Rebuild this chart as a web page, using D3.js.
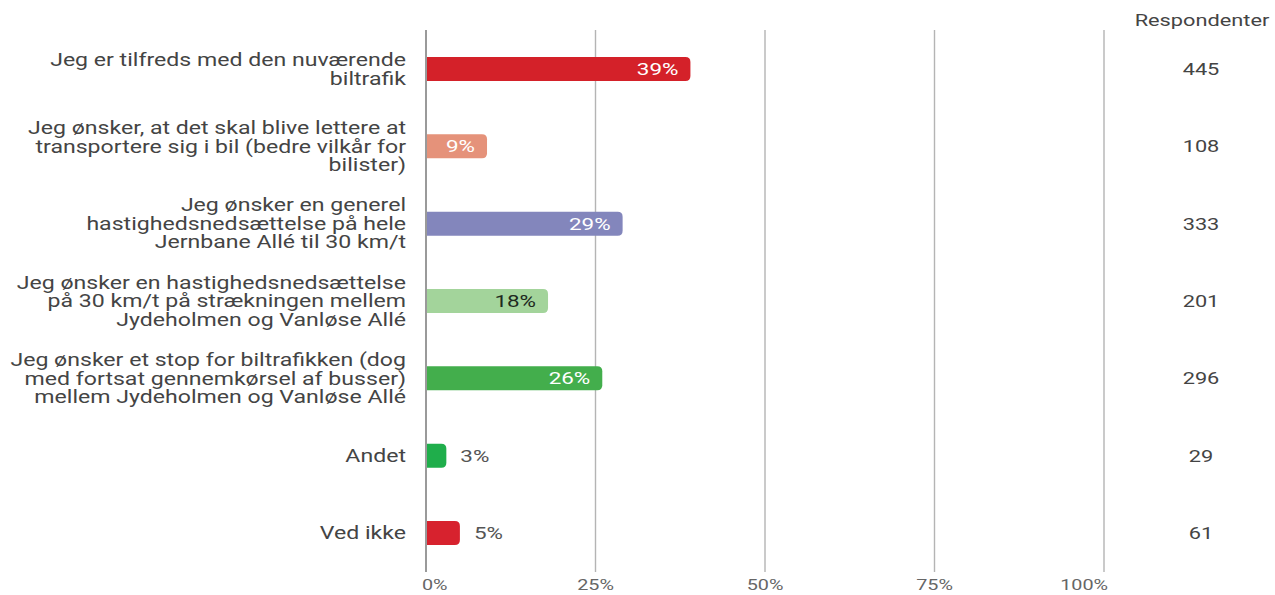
<!DOCTYPE html>
<html>
<head>
<meta charset="utf-8">
<script src="https://cdn.jsdelivr.net/npm/d3@7/dist/d3.min.js"></script>
<style>
  html, body { margin: 0; padding: 0; background: #fff; }
  svg { display: block; font-family: Roboto, "Noto Sans", sans-serif; }
</style>
</head>
<body>
<svg id="chart" width="1275" height="595"></svg>
<script>
// ---- data ----
const categories = [
  ["Jeg er tilfreds med den nuværende", "biltrafik"],
  ["Jeg ønsker, at det skal blive lettere at", "transportere sig i bil (bedre vilkår for", "bilister)"],
  ["Jeg ønsker en generel", "hastighedsnedsættelse på hele", "Jernbane Allé til 30 km/t"],
  ["Jeg ønsker en hastighedsnedsættelse", "på 30 km/t på strækningen mellem", "Jydeholmen og Vanløse Allé"],
  ["Jeg ønsker et stop for biltrafikken (dog", "med fortsat gennemkørsel af busser)", "mellem Jydeholmen og Vanløse Allé"],
  ["Andet"],
  ["Ved ikke"]
];
const percentages = [39, 9, 29, 18, 26, 3, 5];
const respondents = [445, 108, 333, 201, 296, 29, 61];
const barColors = ["#d42129", "#e5927a", "#8386bc", "#a3d49b", "#43ae4c", "#1fae4b", "#d7222e"];
const labelColors = ["#ffffff", "#ffffff", "#ffffff", "#1e2a1e", "#ffffff", "#555555", "#555555"];
const tickValues = [0, 25, 50, 75, 100];
const respondentsTitle = "Respondenter";

// ---- layout ----
const svg = d3.select("#chart");
const SX = 1.32; // horizontal text stretch as in reference
const x = d3.scaleLinear().domain([0, 100]).range([426, 1104]);
const idx = d3.range(categories.length);
const y = d3.scalePoint().domain(idx).range([69, 533]);
const barH = 24, r = 5;
const gridTop = 30, gridBottom = 572;

function stretchedText(g, tx, ty) {
  return g.append("text").attr("transform", `translate(${tx},${ty}) scale(${SX},1)`);
}

// grid
svg.append("g").selectAll("line").data(tickValues).join("line")
  .attr("x1", d => x(d)).attr("x2", d => x(d))
  .attr("y1", gridTop).attr("y2", gridBottom)
  .attr("stroke", d => d === 0 ? "#9a9a9a" : "#b4b4b4")
  .attr("stroke-width", d => d === 0 ? 2 : 1.4);

// tick labels
const tg = svg.append("g");
tickValues.forEach(v => {
  let anchor = "middle", tx = x(v);
  if (v === 0) { anchor = "start"; tx = x(v) - 4; }
  if (v === 100) { anchor = "end"; tx = x(v) + 4; }
  stretchedText(tg, tx, 590).attr("text-anchor", anchor)
    .attr("font-size", 15).attr("fill", "#666").text(v + "%");
});

// bars (square left, rounded right)
function barPath(x0, x1, yc) {
  const t = yc - barH / 2, b = yc + barH / 2;
  const rr = Math.min(r, (x1 - x0));
  return `M${x0},${t} H${x1 - rr} Q${x1},${t} ${x1},${t + rr} V${b - rr} Q${x1},${b} ${x1 - rr},${b} H${x0} Z`;
}
svg.append("g").selectAll("path").data(idx).join("path")
  .attr("d", i => barPath(x(0), x(percentages[i]), y(i)))
  .attr("fill", i => barColors[i]);

// redraw axis line on top
svg.append("line").attr("x1", x(0)).attr("x2", x(0)).attr("y1", gridTop).attr("y2", gridBottom)
  .attr("stroke", "#9a9a9a").attr("stroke-width", 2);

// value labels
const vg = svg.append("g");
idx.forEach(i => {
  const inside = percentages[i] >= 8;
  const tx = inside ? x(percentages[i]) - 12 : x(percentages[i]) + 14;
  stretchedText(vg, tx, y(i)).attr("dy", "0.36em")
    .attr("text-anchor", inside ? "end" : "start")
    .attr("font-size", 17).attr("fill", labelColors[i]).text(percentages[i] + "%");
});

// category labels
const cg = svg.append("g");
const lh = 18.5;
idx.forEach(i => {
  const lines = categories[i];
  const t = stretchedText(cg, 406, y(i)).attr("text-anchor", "end")
    .attr("font-size", 17.5).attr("fill", "#444");
  lines.forEach((ln, k) => {
    t.append("tspan").attr("x", 0)
      .attr("y", (k - (lines.length - 1) / 2) * lh)
      .attr("dy", "0.36em").text(ln);
  });
});

// respondents column
const rg = svg.append("g");
stretchedText(rg, 1202, 20).attr("text-anchor", "middle").attr("dy", "0.36em")
  .attr("font-size", 16.5).attr("fill", "#444").text(respondentsTitle);
idx.forEach(i => {
  stretchedText(rg, 1201, y(i)).attr("text-anchor", "middle").attr("dy", "0.36em")
    .attr("font-size", 16.5).attr("fill", "#444").text(respondents[i]);
});
</script>
</body>
</html>
